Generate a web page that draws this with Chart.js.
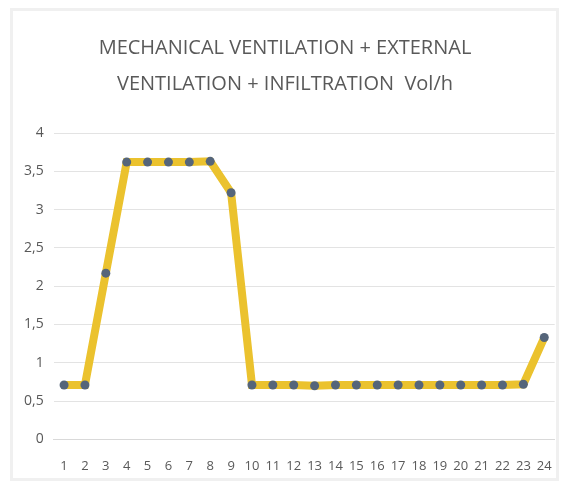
<!DOCTYPE html>
<html>
<head>
<meta charset="utf-8">
<script src="https://cdn.jsdelivr.net/npm/chart.js@4/dist/chart.umd.min.js"></script>
<style>
  html, body { margin: 0; padding: 0; background: #ffffff; overflow: hidden; width: 571px; height: 488px; }
  #frame { position: absolute; left: 10px; top: 8px; width: 549px; height: 473px; border: 3px solid #f0f0f0; box-sizing: border-box; }
  #wrap { position: absolute; left: 0; top: 0; width: 571px; height: 495px; }
</style>
</head>
<body>
<div id="frame"></div>
<div id="wrap"><canvas id="c" width="571" height="495"></canvas></div>
<script>
const titleLines = ["MECHANICAL VENTILATION + EXTERNAL", "VENTILATION + INFILTRATION  Vol/h"];
const hours = ["1","2","3","4","5","6","7","8","9","10","11","12","13","14","15","16","17","18","19","20","21","22","23","24"];
const airChanges = [0.71, 0.71, 2.17, 3.62, 3.62, 3.62, 3.62, 3.63, 3.22, 0.71, 0.71, 0.71, 0.70, 0.71, 0.71, 0.71, 0.71, 0.71, 0.71, 0.71, 0.71, 0.71, 0.72, 1.33];
const yMin = 0, yMax = 4, yStep = 0.5;

new Chart(document.getElementById('c'), {
  type: 'line',
  data: {
    labels: hours,
    datasets: [{
      data: airChanges,
      borderColor: '#EBC22E',
      borderWidth: 8,
      pointBackgroundColor: '#55657A',
      pointBorderColor: '#55657A',
      pointRadius: 4.5,
      pointBorderWidth: 0,
      tension: 0,
      fill: false
    }]
  },
  options: {
    responsive: false,
    animation: false,
    devicePixelRatio: 1,
    layout: { padding: { left: 14, right: 15, top: 0, bottom: 2 } },
    plugins: {
      legend: { display: false },
      tooltip: { enabled: false },
      title: {
        display: true,
        text: titleLines,
        color: '#595959',
        font: { family: 'Open Sans', size: 20, weight: 'normal', lineHeight: 1.8 },
        padding: { top: 30, bottom: 31 }
      }
    },
    scales: {
      x: {
        offset: true,
        grid: { display: false, drawTicks: false },
        border: { display: true, color: '#D9D9D9', width: 1 },
        ticks: { color: '#595959', font: { family: 'Open Sans', size: 13 }, padding: 19, maxRotation: 0, autoSkip: false }
      },
      y: {
        min: yMin, max: yMax,
        grid: { color: '#E3E3E3', lineWidth: 1, drawTicks: false },
        border: { display: false },
        ticks: {
          stepSize: yStep,
          color: '#595959',
          font: { family: 'Open Sans', size: 14 },
          padding: 10,
          callback: v => String(v).replace('.', ',')
        }
      }
    }
  }
});
</script>
</body>
</html>
